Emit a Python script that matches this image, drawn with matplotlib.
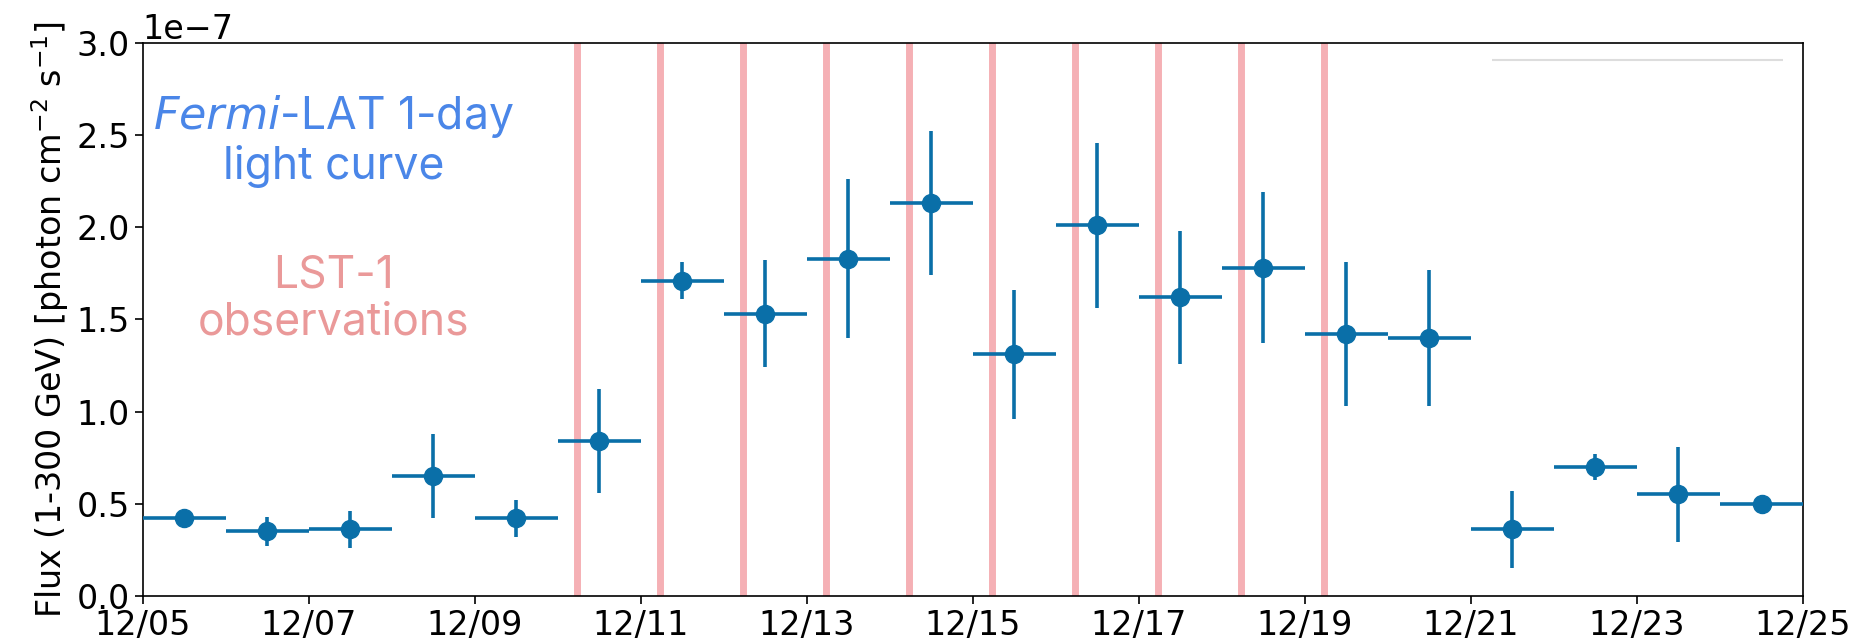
import datetime as dt
import numpy as np
import matplotlib
matplotlib.use("Agg")
import matplotlib.pyplot as plt
import matplotlib.dates as mdates

# Fermi-LAT 1-day bins (day of December, bin centre at noon)
days = [5, 6, 7, 8, 9, 10, 11, 12, 13, 14, 15, 16, 17, 18, 19, 20, 21, 22, 23, 24]
flux = [0.42, 0.35, 0.36, 0.65, 0.42, 0.84, 1.71, 1.53, 1.83, 2.13, 1.31, 2.01,
        1.62, 1.78, 1.42, 1.40, 0.36, 0.70, 0.55, 0.50]
flux_err = [0.03, 0.08, 0.10, 0.23, 0.10, 0.28, 0.10, 0.29, 0.43, 0.39, 0.35, 0.45,
            0.36, 0.41, 0.39, 0.37, 0.21, 0.07, 0.26, 0.03]

# LST-1 observation nights (day of December, fractional)
lst_obs = [10.23, 11.23, 12.23, 13.23, 14.23, 15.23, 16.23, 17.23, 18.23, 19.23]

def to_date(d):
    return dt.datetime(2022, 12, 1) + dt.timedelta(days=d - 1)

x = [to_date(d + 0.5) for d in days]
y = np.array(flux) * 1e-7
yerr = np.array(flux_err) * 1e-7
xerr = [dt.timedelta(hours=12)] * len(days)

fig = plt.figure(figsize=(18.54, 6.42), dpi=100)
ax = fig.add_axes([0.077, 0.072, 0.8955, 0.861])

for d in lst_obs:
    ax.axvline(to_date(d), color="#f4a3a8", lw=5, alpha=0.85, zorder=1)

ax.errorbar(x, y, xerr=xerr, yerr=yerr, fmt="o", color="#0a6fa8",
            ms=13, elinewidth=2.6, capsize=0, zorder=3)

# faint remnant line at top right
ax.hlines(2.91e-7, to_date(21.25), to_date(24.76), color="#dddddd", lw=1.5, zorder=2)

ax.set_xlim(to_date(5), to_date(25))
ax.set_ylim(0, 3e-7)
ax.xaxis.set_major_locator(mdates.DayLocator(bymonthday=[5, 7, 9, 11, 13, 15, 17, 19, 21, 23, 25]))
ax.xaxis.set_major_formatter(mdates.DateFormatter("%m/%d"))
ax.set_yticks(np.arange(0, 3.01e-7, 0.5e-7))
ax.tick_params(labelsize=24, length=6, width=1.2)
ax.yaxis.get_offset_text().set_fontsize(24)
for s in ax.spines.values():
    s.set_linewidth(1.2)
ax.set_ylabel("Flux (1-300 GeV) [photon cm$^{-2}$ s$^{-1}$]", fontsize=24, labelpad=4)

ax.text(to_date(7.3), 2.47e-7, "$\\it{Fermi}$-LAT 1-day\nlight curve", ha="center", va="center",
        fontsize=32, color="#4a86e8", family="Inter", linespacing=1.15)
ax.text(to_date(7.3), 1.61e-7, "LST-1\nobservations", ha="center", va="center",
        fontsize=32, color="#ea9999", family="Inter", linespacing=1.15)

fig.savefig("out.png", dpi=100)
